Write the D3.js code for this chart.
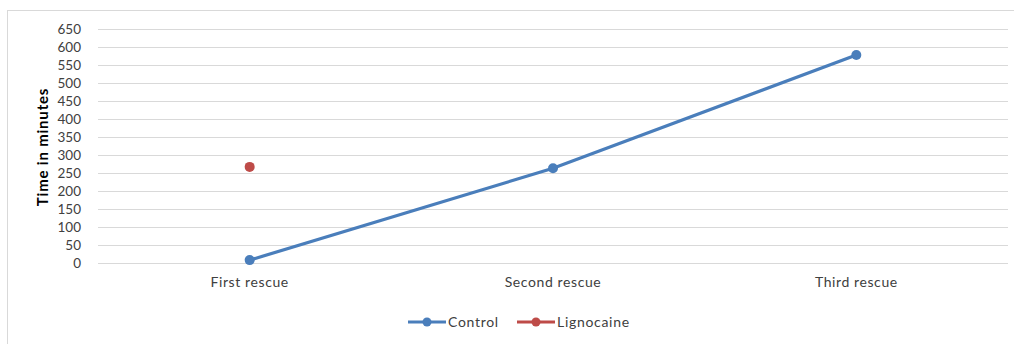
<!DOCTYPE html>
<html><head><meta charset="utf-8">
<script src="https://cdn.jsdelivr.net/npm/d3@7"></script>
<style>body{margin:0;background:#fff}svg{display:block;font-family:Lato,"Open Sans",sans-serif}</style>
</head><body><svg id="c" width="1014" height="344"></svg>
<script>
const categories = ["First rescue","Second rescue","Third rescue"];
const controlValues = [8, 263, 578];
const lignocaineValues = [267, null, null];
const yTicks = [0,50,100,150,200,250,300,350,400,450,500,550,600,650];
const seriesNames = ["Control","Lignocaine"];
const seriesColors = ["#4a7ebb","#be4b48"];

const svg = d3.select("#c");
svg.append("rect").attr("x",7.5).attr("y",10.5).attr("width",1014).attr("height",400)
  .attr("fill","none").attr("stroke","#d9d9d9");

const pLeft=98, pRight=1008, pTop=29, pBottom=263;
const x = d3.scaleBand().domain(categories).range([pLeft,pRight]);
const y = d3.scaleLinear().domain([0,650]).range([pBottom,pTop]);

const g = svg.append("g");
g.selectAll("line.grid").data(yTicks).enter().append("line")
  .attr("x1",pLeft).attr("x2",pRight)
  .attr("y1",d=>Math.round(y(d))+0.5).attr("y2",d=>Math.round(y(d))+0.5)
  .attr("stroke","#d9d9d9").attr("stroke-width",1);

const yAxis = svg.append("g").attr("transform",`translate(${pLeft},0)`)
  .call(d3.axisLeft(y).tickValues(yTicks).tickSize(0).tickPadding(17));
yAxis.select(".domain").remove();
yAxis.selectAll("text").attr("font-size","13.5px").attr("fill","#404040").attr("font-family","Lato,sans-serif");

const xAxis = svg.append("g").attr("transform",`translate(0,${pBottom})`)
  .call(d3.axisBottom(x).tickSize(0).tickPadding(14));
xAxis.select(".domain").remove();
xAxis.selectAll("text").attr("font-size","14px").attr("letter-spacing","0.6px")
  .attr("fill","#404040").attr("font-family","Lato,sans-serif");

svg.append("text").attr("transform",`translate(48,${(pTop+pBottom)/2+1}) rotate(-90)`)
  .attr("text-anchor","middle").attr("font-size","15px").attr("font-weight","bold")
  .attr("letter-spacing","0.8px").attr("fill","#000").text("Time in minutes");

const cx = c => x(c)+x.bandwidth()/2;
const series = [controlValues, lignocaineValues];
series.forEach((vals,i)=>{
  const pts = categories.map((c,j)=>({c,v:vals[j]})).filter(d=>d.v!=null);
  const line = d3.line().x(d=>cx(d.c)).y(d=>y(d.v));
  if(pts.length>1) svg.append("path").datum(pts).attr("d",line).attr("fill","none")
    .attr("stroke",seriesColors[i]).attr("stroke-width",3.2).attr("stroke-linecap","round");
  svg.selectAll(null).data(pts).enter().append("circle")
    .attr("cx",d=>cx(d.c)).attr("cy",d=>y(d.v)).attr("r",5).attr("fill",seriesColors[i]);
});

// legend
const legX = [408, 517];
seriesNames.forEach((n,i)=>{
  const lg = svg.append("g").attr("transform",`translate(${legX[i]},322)`);
  lg.append("line").attr("x1",0).attr("x2",38).attr("y1",0).attr("y2",0)
    .attr("stroke",seriesColors[i]).attr("stroke-width",3.2);
  lg.append("circle").attr("cx",19).attr("cy",0).attr("r",4.5).attr("fill",seriesColors[i]);
  lg.append("text").attr("x",40).attr("y",5).attr("font-size","14px").attr("letter-spacing","0.7px")
    .attr("fill","#404040").text(n);
});
</script></body></html>
